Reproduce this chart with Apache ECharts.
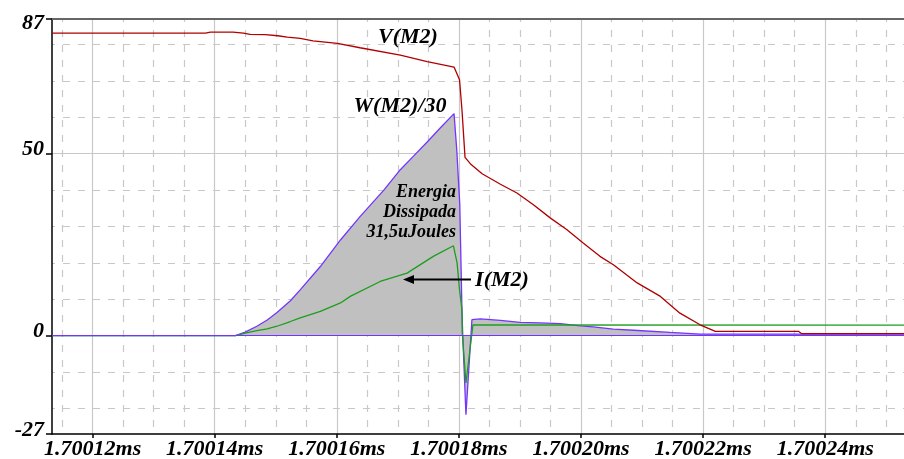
<!DOCTYPE html>
<html><head><meta charset="utf-8">
<script src="https://cdn.jsdelivr.net/npm/echarts@6/dist/echarts.min.js"></script>
<style>html,body{margin:0;padding:0;background:#fff}#c{width:904px;height:459px}</style>
</head><body><div id="c"></div>
<script>
// time axis in nanoseconds (labels shown in ms)
const xMin = 1700113.35, xMax = 1700252.9;
const xMajorTicks = [1700120, 1700140, 1700160, 1700180, 1700200, 1700220, 1700240];
const xMinorTicks = [];
for (let t = 1700115; t <= 1700250; t += 5) { if (t % 20 !== 0) xMinorTicks.push(t); }
const yMin = -27, yMax = 87;
const yLabelTicks = [-27, 0, 50, 87];
const ySolidTicks = [0, 50];
const yMinorTicks = [-20, -10, 10, 20, 30, 40, 60, 70, 80];

// V(M2)
const tV = [1700113.35, 1700138.5, 1700139.3, 1700143.0, 1700144.7, 1700145.8, 1700148.3, 1700150.3, 1700151.9, 1700154.0, 1700156.1, 1700160.1, 1700163.8, 1700170.4, 1700174.8, 1700179.2, 1700180.1, 1700180.5, 1700181.0, 1700181.9, 1700183.8, 1700186.8, 1700189.5, 1700192.2, 1700195.0, 1700197.7, 1700200.4, 1700203.1, 1700205.3, 1700209.2, 1700213.0, 1700216.2, 1700219.5, 1700222.0, 1700235.6, 1700236.1, 1700252.9];
const vV = [83.1, 83.1, 83.4, 83.4, 83.1, 82.8, 82.7, 82.4, 82.0, 81.7, 81.0, 80.3, 79.1, 77.1, 75.3, 73.8, 70.3, 62.0, 49.0, 47.2, 44.5, 41.6, 39.2, 36.0, 32.3, 29.1, 25.4, 21.8, 19.5, 14.5, 10.8, 6.2, 3.0, 1.2, 1.2, 0.6, 0.6];
// W(M2)/30
const tW = [1700113.35, 1700143.4, 1700145.0, 1700146.9, 1700148.6, 1700150.2, 1700152.4, 1700154.0, 1700157.3, 1700160.6, 1700163.8, 1700167.7, 1700170.4, 1700172.6, 1700174.8, 1700176.9, 1700179.2, 1700179.65, 1700180.14, 1700180.5, 1700180.63, 1700181.15, 1700182.13, 1700183.5, 1700186.8, 1700190.0, 1700193.3, 1700196.6, 1700199.9, 1700202.0, 1700205.3, 1700208.6, 1700214.6, 1700219.5, 1700252.9];
const vW = [0, 0, 1.0, 2.6, 4.3, 6.4, 9.6, 12.6, 19.0, 26.3, 32.7, 40.0, 45.6, 49.4, 53.2, 57.0, 61.0, 51.0, 36.0, 7.0, 0, -21.7, 4.4, 4.6, 4.2, 3.65, 3.5, 3.3, 2.7, 2.4, 1.8, 1.5, 0.9, 0.45, 0.45];
// I(M2)
const tI = [1700113.35, 1700143.4, 1700145.0, 1700146.9, 1700148.6, 1700150.2, 1700152.4, 1700154.0, 1700157.3, 1700160.6, 1700162.2, 1700167.1, 1700171.5, 1700175.8, 1700179.1, 1700179.7, 1700180.1, 1700180.5, 1700180.55, 1700181.15, 1700182.3, 1700252.9];
const vI = [0, 0, 0.7, 1.4, 1.9, 2.6, 3.9, 4.9, 6.7, 9.0, 10.8, 14.9, 17.2, 21.8, 24.7, 20.0, 12.6, 7.1, 0.7, -13.0, 3.0, 2.9];

const zip = (a, b) => a.map((t, i) => [t, b[i]]);
const FONT = 'Liberation Serif';
const gridCol = '#c8c8c8';
const dash = [7, 8];
const purple = '#7434ff', green = '#1c9e1c', red = '#b00000';

const chart = echarts.init(document.getElementById('c'), null, { renderer: 'canvas' });
chart.setOption({
  animation: false,
  backgroundColor: '#ffffff',
  grid: { left: 52, top: 19, right: 0, bottom: 25, containLabel: false, outerBoundsMode: 'none' },
  xAxis: [
    {
      type: 'value', position: 'bottom', min: xMin, max: xMax,
      axisLine: { show: true, onZero: false, lineStyle: { color: '#000', width: 1.5 } },
      axisTick: { show: true, length: 4, customValues: xMajorTicks, lineStyle: { color: '#000', width: 1.5 } },
      axisLabel: {
        show: true, customValues: xMajorTicks, margin: 4,
        formatter: v => (v / 1e6).toFixed(5) + 'ms',
        fontFamily: FONT, fontWeight: 'bold', fontStyle: 'italic', fontSize: 22, lineHeight: 22, color: '#000'
      },
      splitLine: { show: true, lineStyle: { color: gridCol, width: 1.2, type: 'solid' } }
    },
    {
      type: 'value', position: 'top', min: xMin, max: xMax,
      axisLine: { show: true, onZero: false, lineStyle: { color: '#666', width: 2.2 } },
      axisTick: { show: false, customValues: xMinorTicks },
      axisLabel: { show: false, customValues: xMinorTicks },
      splitLine: { show: true, lineStyle: { color: gridCol, width: 1.2, type: dash, dashOffset: 4 } }
    }
  ],
  yAxis: [
    {
      type: 'value', position: 'left', min: yMin, max: yMax,
      axisLine: { show: true, onZero: false, lineStyle: { color: '#000', width: 1.5 } },
      axisTick: { show: true, length: 6, customValues: yLabelTicks, lineStyle: { color: '#000', width: 1.5 } },
      axisLabel: {
        show: true, customValues: yLabelTicks, margin: 8,
        formatter: v => (v === 87 ? '{t|87}' : '{b|' + v + '}'),
        rich: {
          t: { fontFamily: FONT, fontWeight: 'bold', fontStyle: 'italic', fontSize: 22, lineHeight: 22, padding: [8, 0, 0, 0], color: '#000' },
          b: { fontFamily: FONT, fontWeight: 'bold', fontStyle: 'italic', fontSize: 22, lineHeight: 22, padding: [0, 0, 8, 0], color: '#000' }
        },
        fontFamily: FONT, fontWeight: 'bold', fontStyle: 'italic', fontSize: 22, color: '#000'
      },
      splitLine: { show: false }
    },
    {
      type: 'value', position: 'left', min: yMin, max: yMax,
      axisLine: { show: false }, axisTick: { show: false, customValues: ySolidTicks },
      axisLabel: { show: false, customValues: ySolidTicks },
      splitLine: { show: true, lineStyle: { color: gridCol, width: 1.2, type: 'solid' } }
    },
    {
      type: 'value', position: 'right', min: yMin, max: yMax,
      axisLine: { show: false }, axisTick: { show: false, customValues: yMinorTicks },
      axisLabel: { show: false, customValues: yMinorTicks },
      splitLine: { show: true, lineStyle: { color: gridCol, width: 1.2, type: dash, dashOffset: 4 } }
    }
  ],
  series: [
    {
      name: 'W(M2)/30', type: 'line', xAxisIndex: 0, yAxisIndex: 0, data: zip(tW, vW),
      showSymbol: false, symbol: 'none', lineStyle: { color: purple, width: 1.3 },
      areaStyle: { color: '#c0c0c0', opacity: 1, origin: 0 },
      markLine: { silent: true, symbol: 'none', label: { show: false },
        lineStyle: { color: purple, width: 1.2, type: 'solid' }, data: [{ yAxis: 0 }] },
      z: 2
    },
    {
      name: 'I(M2)', type: 'line', xAxisIndex: 0, yAxisIndex: 0, data: zip(tI, vI),
      showSymbol: false, symbol: 'none', lineStyle: { color: green, width: 1.3 }, z: 3
    },
    {
      name: 'V(M2)', type: 'line', xAxisIndex: 0, yAxisIndex: 0, data: zip(tV, vV),
      showSymbol: false, symbol: 'none', lineStyle: { color: red, width: 1.3 }, z: 4
    }
  ],
  graphic: [
    { type: 'text', x: 408, y: 37, z: 10,
      style: { text: 'V(M2)', fill: '#000', font: 'italic bold 22px "Liberation Serif"', align: 'center', verticalAlign: 'middle' } },
    { type: 'text', x: 400, y: 106, z: 10,
      style: { text: 'W(M2)/30', fill: '#000', font: 'italic bold 22px "Liberation Serif"', align: 'center', verticalAlign: 'middle' } },
    { type: 'text', x: 456, y: 212, z: 10,
      style: { text: 'Energia\nDissipada\n31,5uJoules', fill: '#000', font: 'italic bold 18px "Liberation Serif"', lineHeight: 20, align: 'right', verticalAlign: 'middle' } },
    { type: 'text', x: 502, y: 280, z: 10,
      style: { text: 'I(M2)', fill: '#000', font: 'italic bold 22px "Liberation Serif"', align: 'center', verticalAlign: 'middle' } },
    { type: 'line', z: 10, shape: { x1: 410, y1: 279.5, x2: 471, y2: 279.5 }, style: { stroke: '#000', lineWidth: 2 } },
    { type: 'polygon', z: 10, shape: { points: [[403, 279.5], [414, 275], [414, 284]] }, style: { fill: '#000' } }
  ]
});
</script>
</body></html>
